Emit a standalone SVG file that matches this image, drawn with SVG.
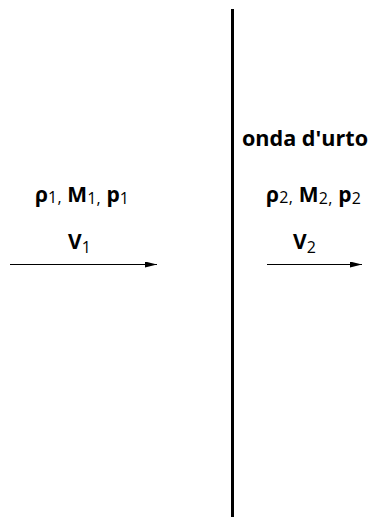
<svg xmlns="http://www.w3.org/2000/svg" width="373" height="517" viewBox="0 0 373 517">
<style>
text{font-family:"Open Sans","Liberation Sans",sans-serif;fill:#000}
.b{font-weight:bold;font-size:21px}
.s{font-weight:normal;font-size:16px}
.t{font-weight:bold;font-size:22px}
.conn{stroke:#000;stroke-width:1.2;fill:none}
</style>
<defs>
<marker id="ah" viewBox="0 0 12 6" refX="12" refY="3" markerWidth="12" markerHeight="6" markerUnits="userSpaceOnUse" orient="auto">
<path d="M0,0 L12,3 L0,6 Z" fill="#000"/>
</marker>
</defs>
<rect width="373" height="517" fill="#fff"/>
<g id="shock">
<line x1="232.5" y1="9" x2="232.5" y2="517" stroke="#000" stroke-width="3"/>
<text class="t" x="242" y="146" textLength="126" lengthAdjust="spacingAndGlyphs">onda d'urto</text>
</g>
<g id="region1">
<text x="35" y="202" textLength="94" lengthAdjust="spacing"><tspan class="b">ρ</tspan><tspan class="s" dy="1">1,</tspan><tspan class="b" dy="-1"> M</tspan><tspan class="s" dy="2">1,</tspan><tspan class="b" dy="-2"> p</tspan><tspan class="s" dy="2">1</tspan></text>
<text x="68" y="249"><tspan class="b">V</tspan><tspan class="s" dy="4">1</tspan></text>
</g>
<g id="region2">
<text x="266" y="202" textLength="95" lengthAdjust="spacing"><tspan class="b">ρ</tspan><tspan class="s" dy="1">2,</tspan><tspan class="b" dy="-1"> M</tspan><tspan class="s" dy="2">2,</tspan><tspan class="b" dy="-2"> p</tspan><tspan class="s" dy="2">2</tspan></text>
<text x="293" y="249"><tspan class="b">V</tspan><tspan class="s" dy="4">2</tspan></text>
</g>
<g id="connectors">
<line class="conn" x1="10" y1="264.5" x2="157" y2="264.5" marker-end="url(#ah)"/>
<line class="conn" x1="267" y1="264.5" x2="362" y2="264.5" marker-end="url(#ah)"/>
</g>
</svg>
